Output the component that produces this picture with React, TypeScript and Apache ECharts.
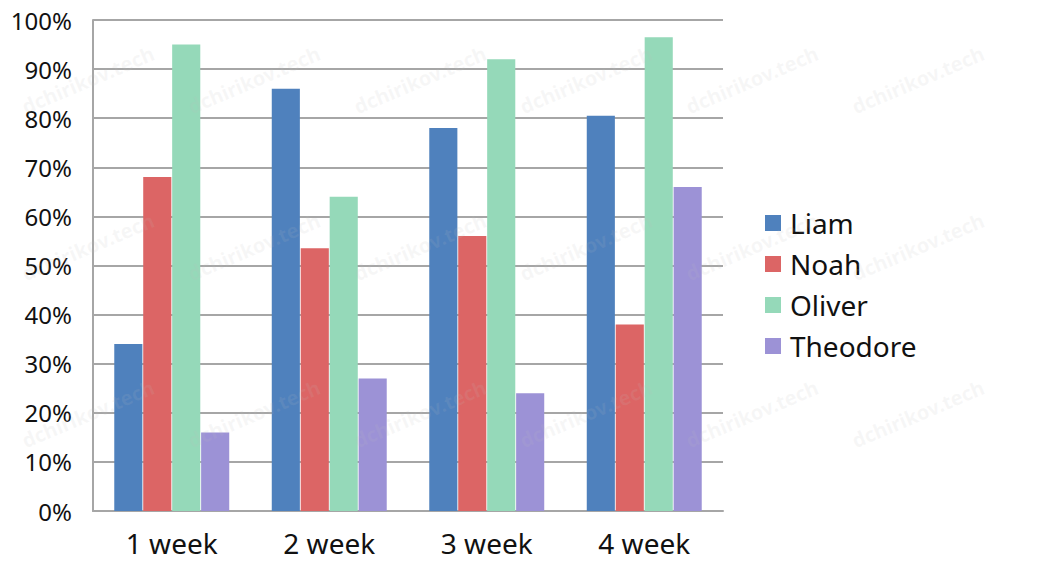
import { useEffect, useRef, type ReactElement } from "react";
import * as echarts from "echarts";

const categories = ["1 week", "2 week", "3 week", "4 week"];
const seriesNames = ["Liam", "Noah", "Oliver", "Theodore"];
const liam = [0.34, 0.86, 0.78, 0.805];
const noah = [0.68, 0.535, 0.56, 0.38];
const oliver = [0.95, 0.64, 0.92, 0.965];
const theodore = [0.16, 0.27, 0.24, 0.66];
const colors = ["#4f81bd", "#dc6565", "#95d9b9", "#9c92d6"];

const FONT = "'Noto Sans', 'Open Sans', sans-serif";

// faint diagonal watermark, as in the source image
function watermarks() {
  const items: any[] = [];
  const xs = [88, 254, 420, 586, 752, 918];
  const ys = [80, 247, 414];
  for (const x of xs) {
    for (const y of ys) {
      items.push({
        type: "text",
        x,
        y,
        rotation: (23 * Math.PI) / 180,
        silent: true,
        z: 100,
        style: {
          text: "dchirikov.tech",
          font: `bold 20px ${FONT}`,
          fill: "rgba(190,190,190,0.12)",
          align: "center",
          verticalAlign: "middle",
        },
      });
    }
  }
  return items;
}

export default function App(): ReactElement {
  const rootRef = useRef<HTMLDivElement>(null);

  useEffect(() => {
    if (!rootRef.current) return;
    const chart = echarts.init(rootRef.current, undefined, {
      renderer: "svg",
      width: 1058,
      height: 569,
    });
    const data = [liam, noah, oliver, theodore];
    chart.setOption({
      animation: false,
      backgroundColor: "#fff",
      color: colors,
      textStyle: { fontFamily: FONT },
      grid: { left: 93, right: 335, top: 20, bottom: 58 },
      legend: {
        orient: "vertical",
        left: 760,
        top: 204,
        itemWidth: 16,
        itemHeight: 16,
        itemGap: 13,
        icon: "rect",
        data: seriesNames,
        textStyle: { fontSize: 28, color: "#111", fontFamily: FONT, padding: [0, 0, 0, 4] },
      },
      xAxis: {
        type: "category",
        data: categories,
        axisLine: { lineStyle: { color: "#a6a6a6", width: 2 } },
        axisTick: { show: false },
        axisLabel: { fontSize: 28, color: "#111", margin: 18, fontFamily: FONT },
      },
      yAxis: {
        type: "value",
        min: 0,
        max: 1,
        interval: 0.1,
        axisLine: { show: true, lineStyle: { color: "#a6a6a6", width: 2 } },
        axisTick: { show: false },
        splitLine: { lineStyle: { color: "#a6a6a6", width: 2 } },
        axisLabel: {
          fontSize: 24,
          color: "#111",
          margin: 21,
          fontFamily: FONT,
          formatter: (v: number) => `${Math.round(v * 100)}%`,
        },
      },
      series: seriesNames.map((name, i) => ({
        name,
        type: "bar",
        data: data[i],
        barGap: "3%",
        barCategoryGap: "27%",
        itemStyle: { color: colors[i] },
      })),
      graphic: watermarks(),
    });

    return () => {
      chart.dispose();
    };
  }, []);

  return (
    <div
      ref={rootRef}
      style={{ position: "fixed", left: 0, top: 0, width: 1058, height: 569 }}
    />
  );
}
